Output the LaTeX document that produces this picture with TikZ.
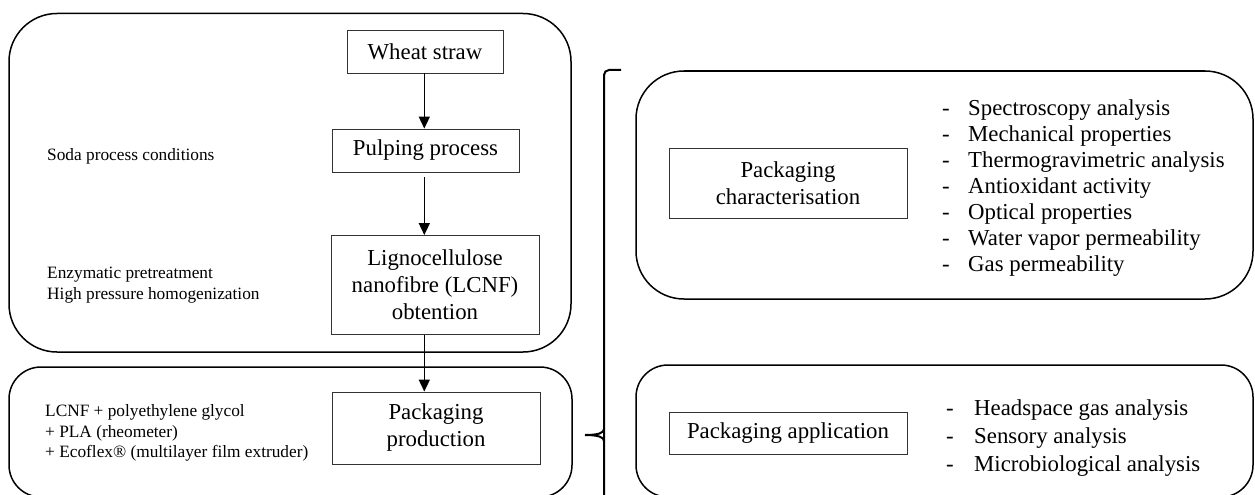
\documentclass[tikz,border=0pt]{standalone}
\usepackage{fontspec}
\setmainfont{Liberation Serif}
\usetikzlibrary{arrows.meta}
\begin{document}
\begin{tikzpicture}[x=1pt,y=-1pt,
  group/.style={draw, line width=1.5pt, rounded corners=#1},
  group/.default=48pt,
  stepbox/.style={draw=black!80, line width=0.9pt, align=center, inner sep=0pt,
    font=\fontsize{22.8}{27}\selectfont},
  side/.style={anchor=west, align=left, inner sep=0pt,
    font=\fontsize{17.3}{20.5}\selectfont},
  listtext/.style={anchor=west, align=left, inner sep=0pt,
    font=\fontsize{22.8}{#1}\selectfont},
  flow/.style={-{Triangle[length=12pt,width=11pt]}, line width=1.6pt},
  bracket/.style={line width=2pt}]
\useasboundingbox (0,0) rectangle (1255,495);
% group frames
\draw[group] (9,13.5) rectangle (571,352);
\draw[group=32pt] (9,367) rectangle (572,497);
\draw[group] (636,71) rectangle (1253,299);
\draw[group=32pt] (636,365) rectangle (1253,497);
% flow boxes
\node[stepbox, minimum width=156pt, minimum height=43pt] (wheat) at (425,51.5) {Wheat straw};
\node[stepbox, minimum width=187pt, minimum height=43pt] (pulp) at (425.5,150.5) {Pulping process};
\node[stepbox, minimum width=208pt, minimum height=99pt] (lcnf) at (435,285) {Lignocellulose\\nanofibre (LCNF)\\obtention};
\node[stepbox, minimum width=208pt, minimum height=72pt] (prod) at (436,428) {Packaging\\production};
\node[stepbox, minimum width=238pt, minimum height=70pt] (char) at (788,183) {Packaging\\characterisation};
\node[stepbox, minimum width=238pt, minimum height=42pt] (appl) at (788,433) {Packaging application};
% arrows
\coordinate (axis) at (424.3,0);
\draw[flow] (axis |- wheat.south) -- (axis |- pulp.north);
\draw[flow, shorten <=5pt] (axis |- pulp.south) -- (axis |- lcnf.north);
\draw[flow] (axis |- lcnf.south) -- (axis |- prod.north);
% side notes
\node[side] (soda) at (47,156) {Soda process conditions};
\node[side] (enz) at (47,285) {Enzymatic pretreatment\\High pressure homogenization};
\node[side] (mix) at (45,433) {LCNF + polyethylene glycol\\+ PLA (rheometer)\\+ Ecoflex\textregistered{} (multilayer film extruder)};
% lists
\node[listtext=26] (charlist) at (942,188) {%
\makebox[26pt][l]{-}Spectroscopy analysis\\
\makebox[26pt][l]{-}Mechanical properties\\
\makebox[26pt][l]{-}Thermogravimetric analysis\\
\makebox[26pt][l]{-}Antioxidant activity\\
\makebox[26pt][l]{-}Optical properties\\
\makebox[26pt][l]{-}Water vapor permeability\\
\makebox[26pt][l]{-}Gas permeability};
\node[listtext=28] (appllist) at (946,438) {%
\makebox[28pt][l]{-}Headspace gas analysis\\
\makebox[28pt][l]{-}Sensory analysis\\
\makebox[28pt][l]{-}Microbiological analysis};
% bracket
\coordinate (btop) at (621,70);
\coordinate (bbot) at (604,497);
\coordinate (btick) at (585,435);
\draw[bracket, rounded corners=5pt] (btop) -- (604,70) -- (bbot);
\draw[bracket] (btick) .. controls (598,435) and (604,433) .. (604,429);
\draw[bracket] (btick) .. controls (598,435) and (604,437) .. (604,441);
\end{tikzpicture}
\end{document}
